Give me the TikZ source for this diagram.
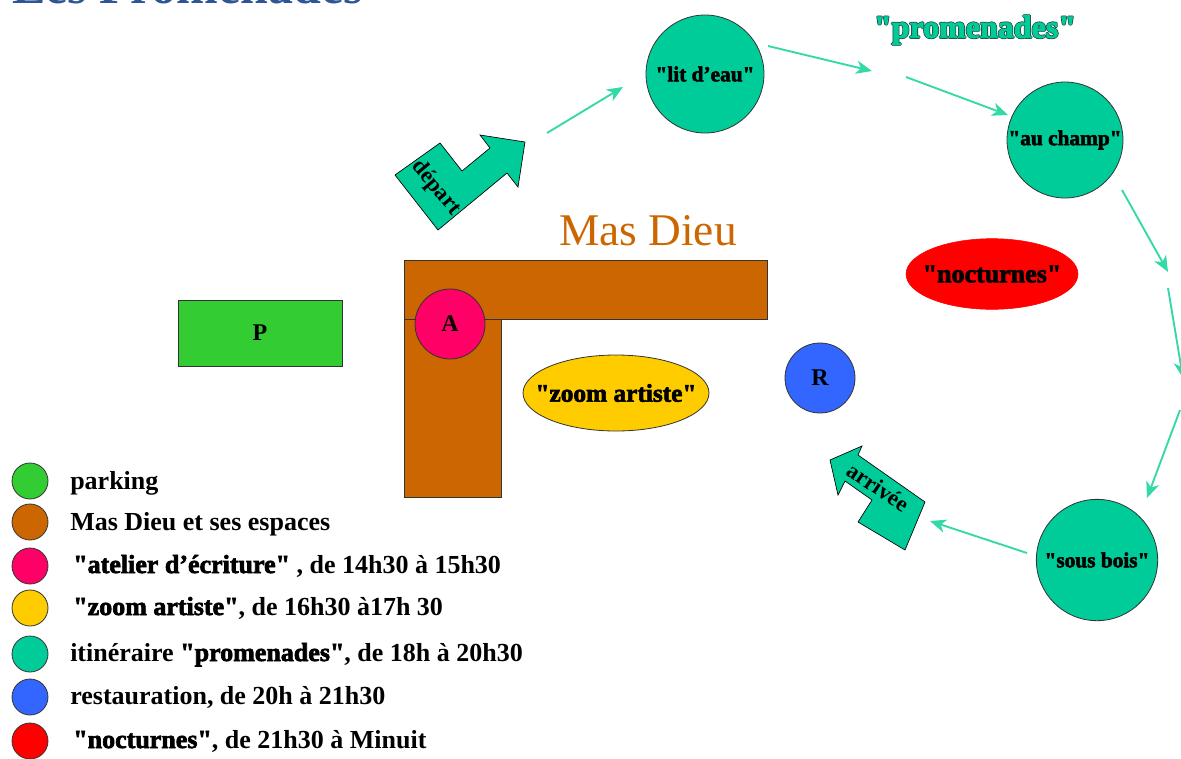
\documentclass[tikz,border=0pt]{standalone}
\usepackage{fontspec}
\setmainfont{Liberation Serif}
\newfontfamily\heavy{Liberation Serif}[BoldFeatures={FakeBold=2.5}]
\newfontfamily\plainq{Liberation Serif}
\usetikzlibrary{arrows.meta,shapes.geometric}
\definecolor{pgreen}{HTML}{33CC33}
\definecolor{brownm}{HTML}{CC6600}
\definecolor{pinkA}{HTML}{FF0066}
\definecolor{yel}{HTML}{FFCC00}
\definecolor{tealc}{HTML}{00CC99}
\definecolor{blu}{HTML}{3366FF}
\definecolor{rd}{HTML}{FF0000}
\definecolor{arr}{HTML}{33D9A6}
\definecolor{titleblue}{HTML}{2F5597}
\definecolor{outl}{HTML}{1F4F44}
\newcommand\outlinetext[2]{%
 \makebox[0pt][l]{\textcolor{#1}{\kern-0.6pt#2}}%
 \makebox[0pt][l]{\textcolor{#1}{\kern0.6pt#2}}%
 \makebox[0pt][l]{\textcolor{#1}{\raisebox{0.6pt}{#2}}}%
 \makebox[0pt][l]{\textcolor{#1}{\raisebox{-0.6pt}{#2}}}%
 #2}
\tikzset{
 spot/.style={circle, draw=black!80, line width=0.6pt, inner sep=0pt},
 route/.style={draw=arr, line width=1.4pt, -{Stealth[length=12pt,width=10pt,inset=3.5pt]}},
 legdot/.style={circle, draw=black!80, line width=0.6pt, minimum size=27pt, inner sep=0pt},
 legtext/.style={anchor=base west, inner sep=0pt, font=\plainq\fontsize{19.5}{22}\selectfont\bfseries},
 bigarrow/.style={fill=tealc, draw=black, line width=0.5pt},
 walltext/.style={font=\heavy\bfseries\fontsize{16}{17}\selectfont},
 hlabel/.style={font=\bfseries\fontsize{18}{20}\selectfont}
}
\begin{document}
\begin{tikzpicture}[x=0.75pt,y=-0.75pt]
\clip (0,0) rectangle (1181,758);
% title (cut off at top)
\node[anchor=base west, inner sep=0pt, text=titleblue, font=\bfseries\fontsize{37.5}{40}\selectfont] (title) at (12,3) {Les Promenades};

% parking
\node[spot, rectangle, fill=pgreen, minimum width=123pt, minimum height=49.5pt, hlabel] (P) at (260,333) {P};

% Mas Dieu building
\draw[fill=brownm, draw=black!80, line width=0.6pt] (404,260) rectangle (767,319);
\draw[fill=brownm, draw=black!80, line width=0.6pt] (404,319) rectangle (501,497);
\node[anchor=base, inner sep=0pt, text=brownm, font=\fontsize{34}{36}\selectfont] (masdieu) at (648,245) {Mas Dieu};

\node[spot, fill=pinkA, minimum size=52.5pt, hlabel] (A) at (450,324) {A};
\node[ellipse, draw=black!80, line width=0.6pt, fill=yel, minimum width=139.5pt, minimum height=57pt, inner sep=0pt, font=\heavy\bfseries\fontsize{19}{20}\selectfont] (zoom) at (616,393) {\makebox[0pt]{"zoom artiste"}};
\node[spot, fill=blu, minimum size=52.5pt, hlabel] (R) at (820,378) {R};
\node[ellipse, draw=rd, fill=rd, minimum width=129pt, minimum height=53pt, inner sep=0pt, font=\heavy\bfseries\fontsize{19.5}{21}\selectfont] (noct) at (992,274) {\makebox[0pt]{"nocturnes"}};

% promenade stations
\node[spot, fill=tealc, minimum size=88.5pt, walltext] (eau) at (705,74) {\makebox[0pt]{"lit d’eau"}};
\node[spot, fill=tealc, minimum size=87pt, walltext] (champ) at (1065,140) {\makebox[0pt]{"au champ"}};
\node[spot, fill=tealc, minimum size=91pt, walltext] (bois) at (1097,560) {\makebox[0pt]{"sous bois"}};
\node[text=tealc, font=\heavy\bfseries\fontsize{24}{26}\selectfont] (prom) at (975,30) {\outlinetext{outl}{"promenades"}};

% depart / arrivee arrows
\draw[bigarrow] (395,175) -- (440,143) -- (462,171) -- (490,148) -- (480,135) -- (525,142) -- (518,187) -- (507,173) -- (438,230) -- cycle;
\node[rotate=-50, font=\bfseries\fontsize{17}{18}\selectfont] (dep) at (436,188) {départ};
\draw[bigarrow] (830,460) -- (862,446) -- (858,455) -- (925,502) -- (905,550) -- (858,522) -- (872,500) -- (845,481) -- (838,495) -- cycle;
\node[rotate=-34, font=\bfseries\fontsize{17}{18}\selectfont] (arr) at (878,487) {arrivée};

% route arrows
\coordinate (a1s) at (547,133); \coordinate (a1e) at (623,87);
\coordinate (a2s) at (768,46);  \coordinate (a2e) at (872,71);
\coordinate (a3s) at (906,77);  \coordinate (a3e) at (1008,115);
\coordinate (a4s) at (1122,190); \coordinate (a4e) at (1168,272);
\coordinate (a5s) at (1168,288); \coordinate (a5e) at (1183,378);
\coordinate (a6s) at (1180,410); \coordinate (a6e) at (1147,498);
\coordinate (a7s) at (1027,553); \coordinate (a7e) at (930,521);
\draw[route] (a1s) -- (a1e);
\draw[route] (a2s) -- (a2e);
\draw[route] (a3s) -- (a3e);
\draw[route] (a4s) -- (a4e);
\draw[route] (a5s) -- (a5e);
\draw[route] (a6s) -- (a6e);
\draw[route] (a7s) -- (a7e);

% legend
\node[legdot, fill=pgreen] (l1) at (30,481) {};
\node[legdot, fill=brownm] (l2) at (30,522) {};
\node[legdot, fill=pinkA] (l3) at (30,566) {};
\node[legdot, fill=yel] (l4) at (30,608) {};
\node[legdot, fill=tealc] (l5) at (30,654) {};
\node[legdot, fill=blu] (l6) at (30,697) {};
\node[legdot, fill=rd] (l7) at (30,741) {};
\node[legtext] (t1) at (70,489) {parking};
\node[legtext] (t2) at (70,530) {Mas Dieu et ses espaces};
\node[legtext] (t3) at (73,573) {{\heavy"atelier d’écriture"} , de 14h30 à 15h30};
\node[legtext] (t4) at (73,615) {{\heavy"zoom artiste"}, de 16h30 à17h 30};
\node[legtext] (t5) at (70,661) {itinéraire {\heavy"promenades"}, de 18h à 20h30};
\node[legtext] (t6) at (70,704) {restauration, de 20h à 21h30};
\node[legtext] (t7) at (73,748) {{\heavy"nocturnes"}, de 21h30 à Minuit};
\end{tikzpicture}
\end{document}
